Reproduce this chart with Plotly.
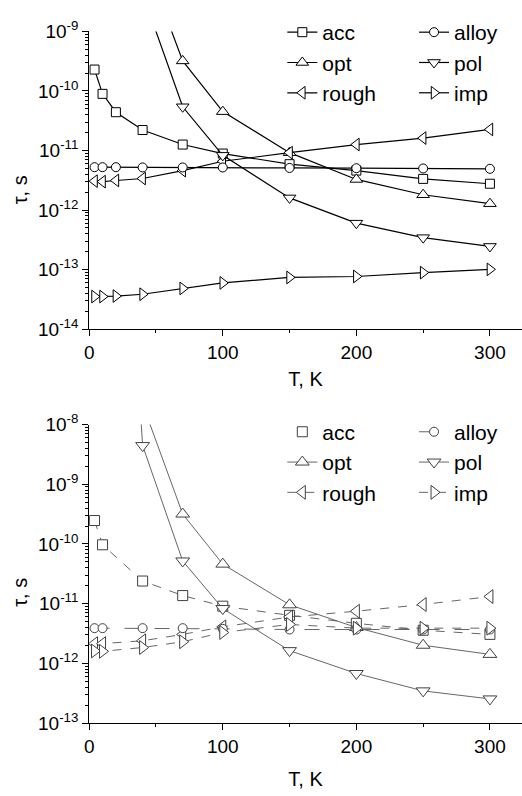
import plotly.graph_objects as go

# ---- temperatures (K) ----
T_top = [4, 10, 20, 40, 70, 100, 150, 200, 250, 300]
T_top_hot = [40, 70, 100, 150, 200, 250, 300]
T_bot = [4, 10, 40, 70, 100, 150, 200, 250, 300]
T_bot_opt = [40, 70, 100, 150, 200, 250, 300]
T_bot_pol = [20, 40, 70, 100, 150, 200, 250, 300]

# ---- scattering times (s), upper panel ----
top_acc = [2.29e-10, 8.95e-11, 4.40e-11, 2.21e-11, 1.26e-11, 8.9e-12, 5.9e-12, 4.6e-12, 3.34e-12, 2.77e-12]
top_alloy = [5.25e-12, 5.25e-12, 5.25e-12, 5.2e-12, 5.2e-12, 5.19e-12, 5.1e-12, 5.05e-12, 5.0e-12, 4.93e-12]
top_opt = [2.0e-8, 3.2e-10, 4.5e-11, 9.2e-12, 3.27e-12, 1.81e-12, 1.28e-12]
top_pol = [4.3e-9, 5.43e-11, 8.3e-12, 1.6e-12, 6.03e-13, 3.44e-13, 2.45e-13]
top_rough = [3.06e-12, 3.0e-12, 3.14e-12, 3.39e-12, 4.6e-12, 6.6e-12, 9.2e-12, 1.26e-11, 1.62e-11, 2.26e-11]
top_imp = [3.53e-14, 3.53e-14, 3.6e-14, 3.86e-14, 4.83e-14, 5.98e-14, 7.39e-14, 7.67e-14, 8.91e-14, 1.01e-13]

# ---- scattering times (s), lower panel ----
bot_acc = [2.47e-10, 9.7e-11, 2.4e-11, 1.37e-11, 9.1e-12, 6.4e-12, 4.7e-12, 3.6e-12, 3.07e-12]
bot_alloy = [3.9e-12, 3.9e-12, 3.9e-12, 3.9e-12, 3.8e-12, 3.7e-12, 3.7e-12, 3.7e-12, 3.7e-12]
bot_opt = [2.2e-8, 3.17e-10, 4.6e-11, 9.6e-12, 4.0e-12, 2.02e-12, 1.42e-12]
bot_pol = [5e-2, 4.44e-9, 5.2e-11, 8.3e-12, 1.64e-12, 6.8e-13, 3.48e-13, 2.55e-13]
bot_rough = [2.15e-12, 2.15e-12, 2.4e-12, 3.07e-12, 4.1e-12, 6.0e-12, 7.5e-12, 9.7e-12, 1.32e-11]
bot_imp = [1.62e-12, 1.6e-12, 1.85e-12, 2.31e-12, 3.3e-12, 4.5e-12, 3.9e-12, 3.9e-12, 3.9e-12]

W, H = 522, 796
FONT = "Liberation Sans, Arial, sans-serif"

def px_x(p):
    return p / W

def px_y(p):
    return 1 - p / H

fig = go.Figure()

top_style = dict(line=dict(color="black", width=1.2))
def mk(symbol, size, color="black"):
    return dict(symbol=symbol, size=size, color="white", line=dict(color=color, width=1))

# upper panel
fig.add_trace(go.Scatter(x=T_top, y=top_acc, name="acc", mode="lines+markers", marker=mk("square", 9),
                         legend="legend", xaxis="x", yaxis="y", **top_style))
fig.add_trace(go.Scatter(x=T_top_hot, y=top_opt, name="opt", mode="lines+markers", marker=mk("triangle-up", 11),
                         legend="legend", xaxis="x", yaxis="y", **top_style))
fig.add_trace(go.Scatter(x=T_top, y=top_rough, name="rough", mode="lines+markers", marker=mk("triangle-left", 11),
                         legend="legend", xaxis="x", yaxis="y", **top_style))
fig.add_trace(go.Scatter(x=T_top, y=top_alloy, name="alloy", mode="lines+markers", marker=mk("circle", 9),
                         legend="legend2", xaxis="x", yaxis="y", **top_style))
fig.add_trace(go.Scatter(x=T_top_hot, y=top_pol, name="pol", mode="lines+markers", marker=mk("triangle-down", 11),
                         legend="legend2", xaxis="x", yaxis="y", **top_style))
fig.add_trace(go.Scatter(x=T_top, y=top_imp, name="imp", mode="lines+markers", marker=mk("triangle-right", 11),
                         legend="legend2", xaxis="x", yaxis="y", **top_style))

# lower panel
GL = "#555555"
GM = "#404040"
def bline(dash):
    return dict(color=GL, width=0.9, dash=dash)

fig.add_trace(go.Scatter(x=T_bot, y=bot_acc, mode="lines", line=bline("dash"), showlegend=False,
                         xaxis="x2", yaxis="y2"))
fig.add_trace(go.Scatter(x=T_bot, y=bot_acc, name="acc", mode="markers", marker=mk("square", 10, GM),
                         legend="legend3", xaxis="x2", yaxis="y2"))
fig.add_trace(go.Scatter(x=T_bot_opt, y=bot_opt, name="opt", mode="lines+markers", marker=mk("triangle-up", 12, GM),
                         line=bline("solid"), legend="legend3", xaxis="x2", yaxis="y2"))
fig.add_trace(go.Scatter(x=T_bot, y=bot_rough, name="rough", mode="lines+markers", marker=mk("triangle-left", 12, GM),
                         line=bline("dash"), legend="legend3", xaxis="x2", yaxis="y2"))
fig.add_trace(go.Scatter(x=T_bot, y=bot_alloy, name="alloy", mode="lines+markers", marker=mk("circle", 9, GM),
                         line=bline("longdash"), legend="legend4", xaxis="x2", yaxis="y2"))
fig.add_trace(go.Scatter(x=T_bot_pol, y=bot_pol, name="pol", mode="lines+markers", marker=mk("triangle-down", 12, GM),
                         line=bline("solid"), legend="legend4", xaxis="x2", yaxis="y2"))
fig.add_trace(go.Scatter(x=T_bot, y=bot_imp, name="imp", mode="lines+markers", marker=mk("triangle-right", 12, GM),
                         line=bline("dash"), legend="legend4", xaxis="x2", yaxis="y2"))

tickfont = dict(family=FONT, size=19, color="black")

def xax(anchor, title_standoff):
    return dict(domain=[px_x(85), 1], range=[0, 324], anchor=anchor,
                showline=True, linecolor="black", linewidth=1, mirror=False,
                ticks="outside", ticklen=6, tickwidth=1, tickcolor="black",
                tickvals=[0, 100, 200, 300], tickfont=tickfont,
                minor=dict(tickvals=[50, 150, 250], ticks="outside", ticklen=3, tickcolor="black"),
                showgrid=False, zeroline=False,
                title=dict(text="T, K", font=dict(family=FONT, size=20, color="black"), standoff=title_standoff))

def yax(anchor, emin, emax, top_px, bot_px):
    vals = [10.0 ** e for e in range(emin, emax + 1)]
    text = ["10<sup>%d</sup>" % e for e in range(emin, emax + 1)]
    minors = [k * 10.0 ** e for e in range(emin, emax) for k in range(2, 10)]
    return dict(type="log", domain=[px_y(bot_px), px_y(top_px)], range=[emin, emax], anchor=anchor,
                showline=True, linecolor="black", linewidth=1,
                ticks="outside", ticklen=6, tickwidth=1, tickcolor="black",
                tickmode="array", tickvals=vals, ticktext=text, tickfont=tickfont,
                minor=dict(tickmode="array", tickvals=minors, ticks="outside", ticklen=3, tickcolor="black"),
                showgrid=False, zeroline=False)

def leg(x_px, y_px):
    return dict(x=px_x(x_px), y=px_y(y_px), xanchor="left", yanchor="top",
                bgcolor="rgba(0,0,0,0)", borderwidth=0,
                font=dict(family=FONT, size=21, color="black"),
                tracegroupgap=0, itemwidth=30)

fig.update_layout(
    width=W, height=H, margin=dict(l=0, r=0, t=0, b=0),
    paper_bgcolor="white", plot_bgcolor="white",
    xaxis=xax("y", 10), yaxis=yax("x", -14, -9, 19, 326),
    xaxis2=xax("y2", 15), yaxis2=yax("x2", -13, -8, 424.3, 732.3),
    legend=leg(280, -1), legend2=leg(413, -1),
    legend3=leg(280, 411), legend4=leg(413, 411),
    annotations=[
        dict(text="τ, s", x=px_x(15), y=px_y(182), xref="paper", yref="paper", showarrow=False,
             xanchor="center", yanchor="middle",
             textangle=-90, font=dict(family=FONT, size=20, color="black")),
        dict(text="τ, s", x=px_x(15), y=px_y(597), xref="paper", yref="paper", showarrow=False,
             xanchor="center", yanchor="middle",
             textangle=-90, font=dict(family=FONT, size=20, color="black")),
    ],
)

fig.write_html("out.html")
